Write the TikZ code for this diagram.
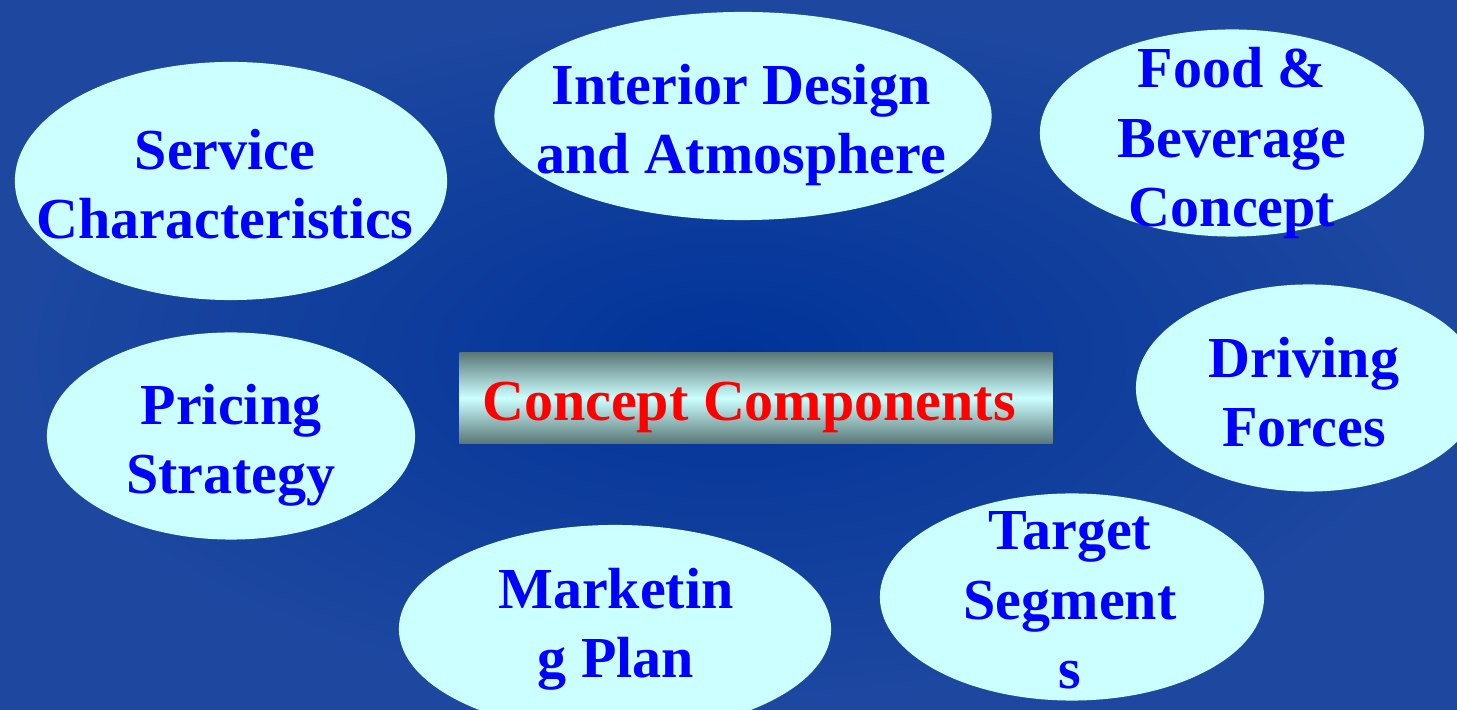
\documentclass[tikz,border=0pt]{standalone}
\usepackage{fontspec}
\setmainfont{Liberation Serif}
\usepackage{tikz}
\usetikzlibrary{shapes,positioning}

\definecolor{bgin}{HTML}{003399}
\definecolor{bgout}{HTML}{1E48A0}
\definecolor{bubblefill}{HTML}{CCFFFF}
\definecolor{boxedge}{HTML}{5C7878}

\begin{document}
\begin{tikzpicture}[
    x=0.01cm, y=-0.01cm,
    bubble/.style={ellipse, fill=bubblefill, inner sep=0pt},
    bubbletext/.style={align=center, text=blue, anchor=base, inner sep=0pt,
        font=\fontsize{16.5}{19.8}\selectfont\bfseries},
    hubbox/.style={rectangle, top color=boxedge, bottom color=boxedge,
        middle color=bubblefill, minimum width=5.93cm, minimum height=0.9cm}
]
\useasboundingbox (0,0) rectangle (1457,710);
\shade[inner color=bgin, outer color=bgout] (0,0) rectangle (1457,710);

% the seven component bubbles
\node[bubble, minimum width=4.32cm, minimum height=2.38cm] (service) at (231,181) {};
\node[bubble, minimum width=4.97cm, minimum height=2.08cm] (interior) at (743,116) {};
\node[bubble, minimum width=3.84cm, minimum height=2.07cm] (food) at (1232,133) {};
\node[bubble, minimum width=3.46cm, minimum height=2.07cm] (driving) at (1309,388) {};
\node[bubble, minimum width=3.68cm, minimum height=2.07cm] (pricing) at (231,436) {};
\node[bubble, minimum width=4.32cm, minimum height=2.08cm] (marketing) at (615,629) {};
\node[bubble, minimum width=3.84cm, minimum height=2.07cm] (target) at (1072,597) {};

% their labels (placed by the baseline of the last line)
\node[bubbletext] (service-t) at (225,239) {Service\\Characteristics};
\node[bubbletext] (interior-t) at (741,174) {Interior Design\\and Atmosphere};
\node[bubbletext] (food-t) at (1232,227) {Food \&\\Beverage\\Concept};
\node[bubbletext] (driving-t) at (1304,447) {Driving\\Forces};
\node[bubbletext] (pricing-t) at (231,494) {Pricing\\Strategy};
\node[bubbletext] (marketing-t) at (616,678) {Marketin\\g Plan};
\node[bubbletext] (target-t) at (1070,689) {Target\\Segment\\s};

% centre box
\node[hubbox] (hub) at (756,398) {};
\node[bubbletext, text=red] (hub-t) at (749,421) {Concept Components};
\end{tikzpicture}
\end{document}
